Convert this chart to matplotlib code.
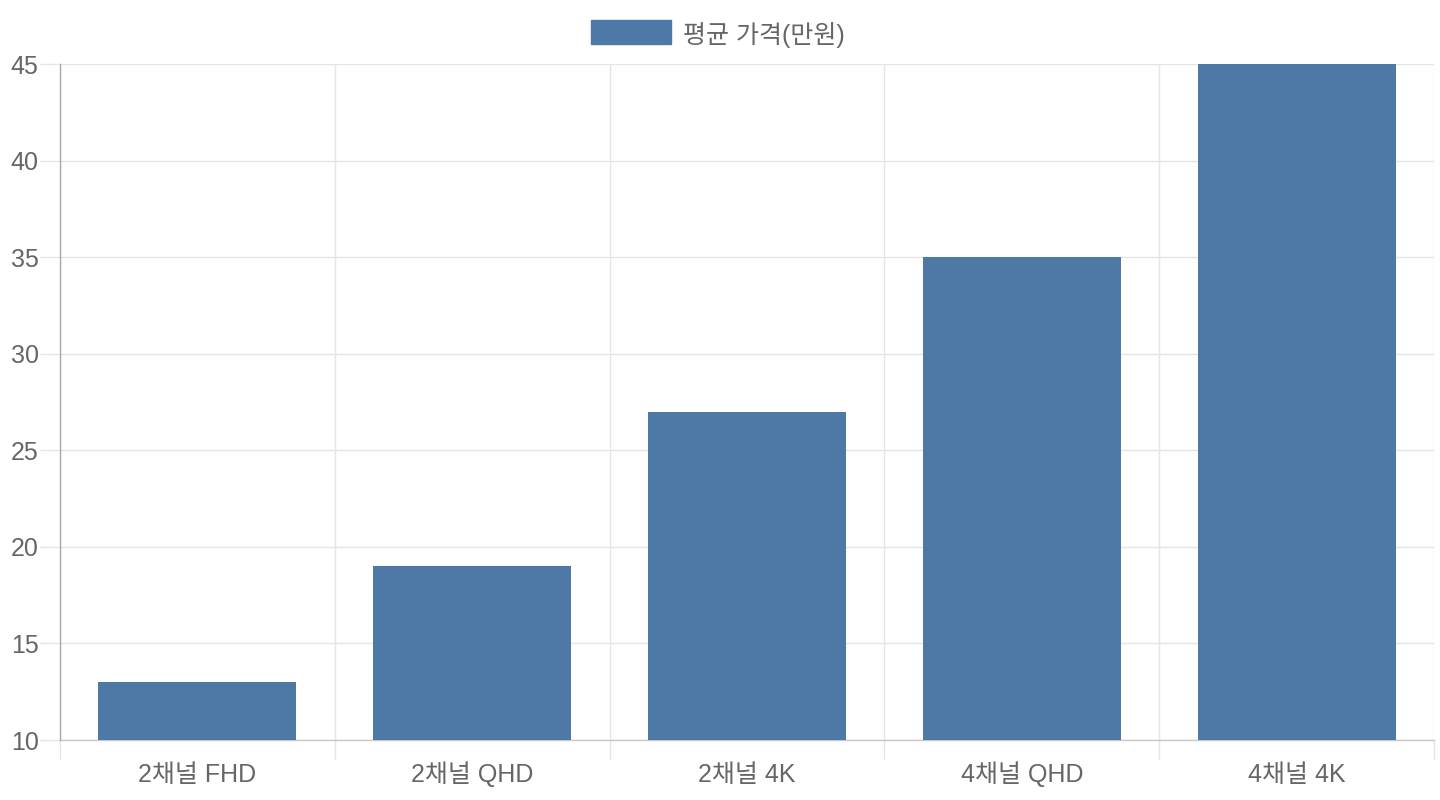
import matplotlib
matplotlib.use("Agg")
import matplotlib.pyplot as plt
from matplotlib.patches import Rectangle
import numpy as np

categories = ["2채널 FHD", "2채널 QHD", "2채널 4K", "4채널 QHD", "4채널 4K"]
values = [13, 19, 27, 35, 45]
series_label = "평균 가격(만원)"
y_ticks = [10, 15, 20, 25, 30, 35, 40, 45]

FAM = ["Liberation Sans", "Noto Sans CJK KR", "DejaVu Sans"]
plt.rcParams['font.family'] = FAM
TXT = "#666666"
GRID = "#e5e5e5"
BAR = "#4e79a7"
FS = 18

W, H = 1440, 800
fig = plt.figure(figsize=(W / 100, H / 100), dpi=100)
L, R, T, B = 60, 1434, 64, 740
ax = fig.add_axes([L / W, 1 - B / H, (R - L) / W, (B - T) / H])

x = np.arange(len(categories))
ax.bar(x, values, width=0.72, color=BAR, zorder=3)
ax.set_xlim(-0.5, len(categories) - 0.5)
ax.set_ylim(10, 45)

ax.set_yticks(y_ticks)
ax.set_yticklabels([str(v) for v in y_ticks])
ax.set_xticks(x)
ax.set_xticklabels(categories)
ax.set_xticks(np.arange(len(categories) + 1) - 0.5, minor=True)

ax.tick_params(axis='y', length=14.4, width=1, color=GRID, pad=1.0,
               labelsize=FS, labelcolor=TXT)
ax.tick_params(axis='x', which='major', length=0, pad=30.5,
               labelsize=FS, labelcolor=TXT)
ax.tick_params(axis='x', which='minor', length=13.7, width=1, color=GRID)
for lab in ax.get_xticklabels():
    lab.set_verticalalignment('baseline')
for lab in ax.get_yticklabels():
    lab.set_verticalalignment('center_baseline')

ax.grid(axis='y', color=GRID, linewidth=1, zorder=0)
ax.grid(axis='x', which='minor', color=GRID, linewidth=1, zorder=0)
ax.grid(axis='x', which='major', visible=False)

for s in ['top', 'right']:
    ax.spines[s].set_visible(False)
ax.spines['left'].set_color("#aaaaaa")
ax.spines['left'].set_linewidth(1)
ax.spines['bottom'].set_color("#c8c8c8")
ax.spines['bottom'].set_linewidth(1)
ax.spines['left'].set_zorder(4)

# legend
fig.add_artist(Rectangle((591 / W, 1 - 44 / H), 80 / W, 24 / H,
                         transform=fig.transFigure, color=BAR))
fig.text(683 / W, 1 - 32 / H, series_label, va='center_baseline', ha='left',
         fontsize=FS, color=TXT)

fig.savefig("out.png", dpi=100, facecolor="white")
